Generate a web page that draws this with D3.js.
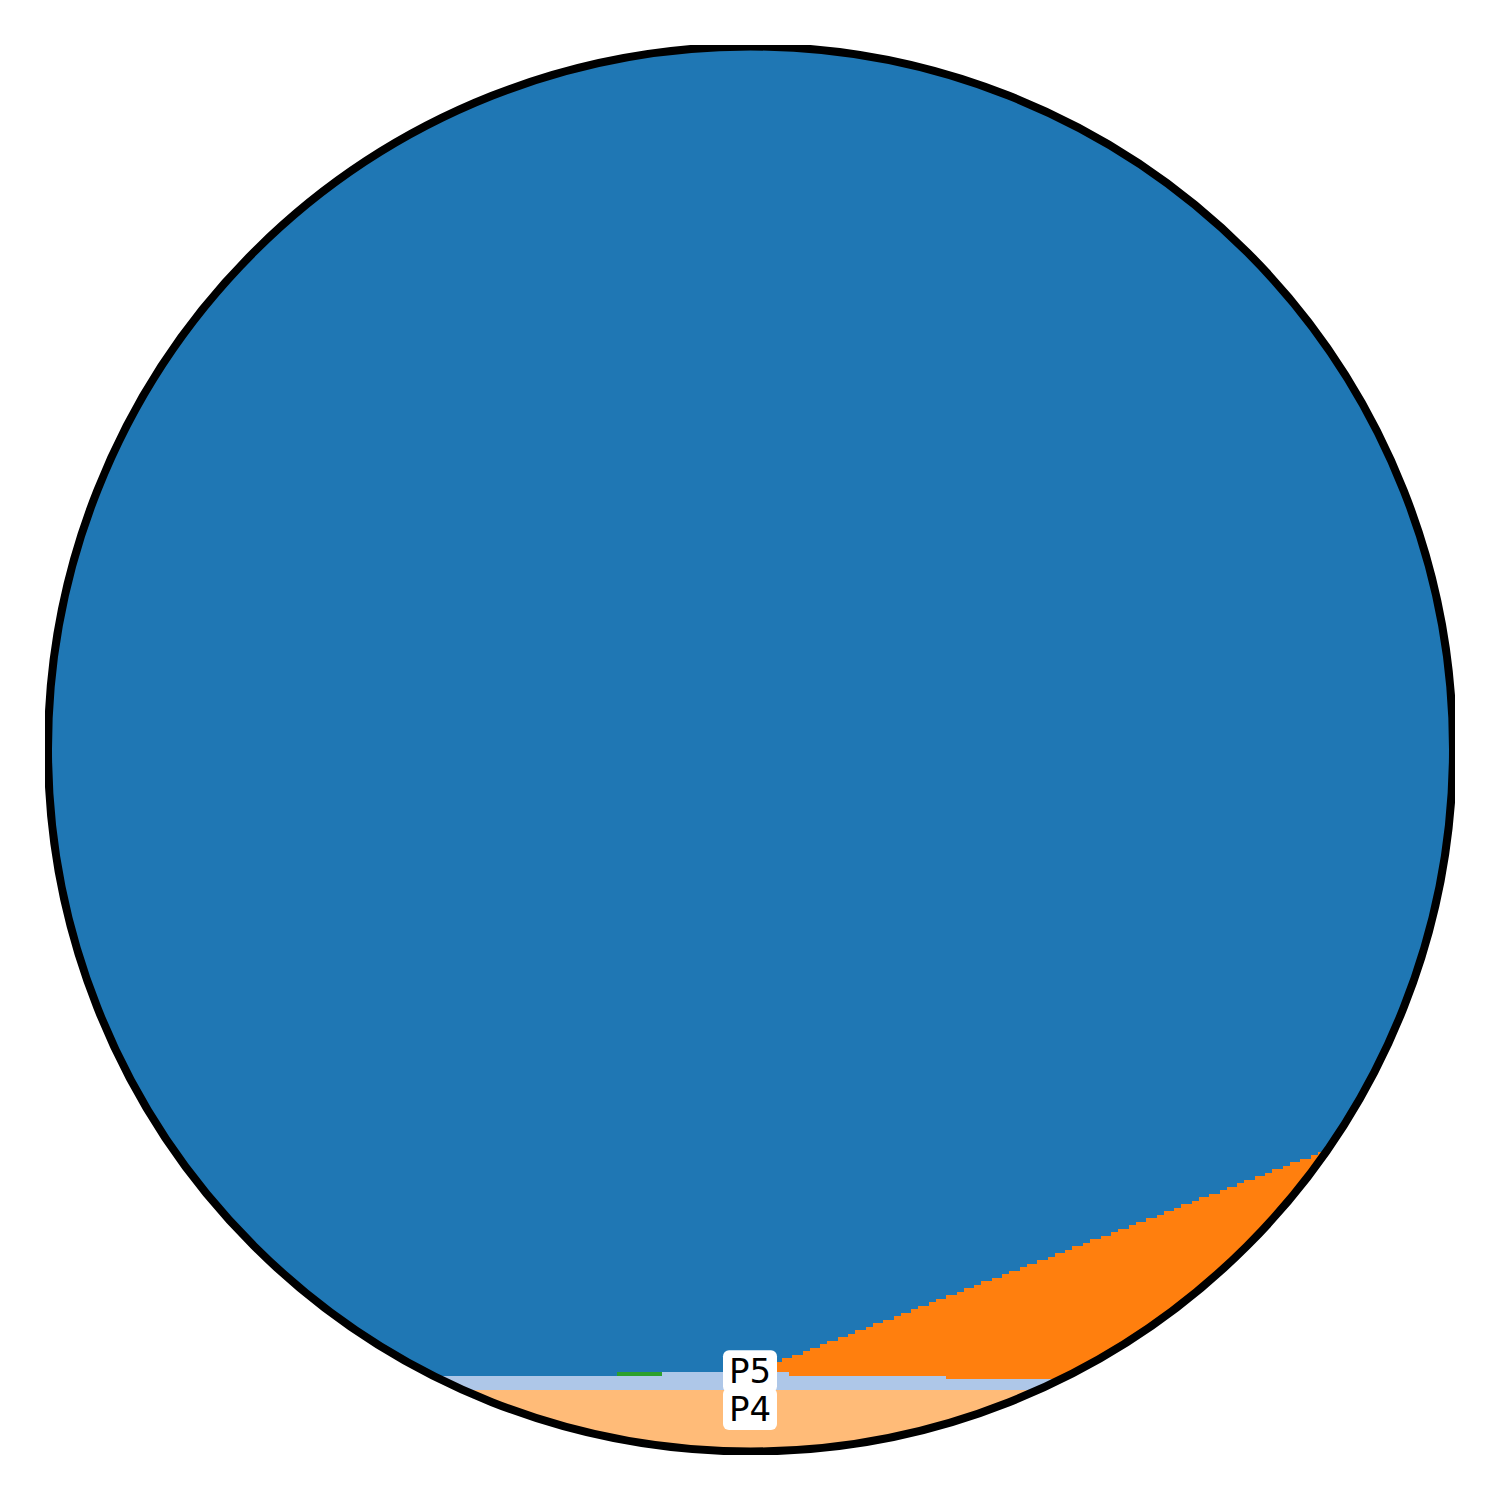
<!DOCTYPE html>
<html>
<head>
<meta charset="utf-8">
<script src="https://cdn.jsdelivr.net/npm/d3@7"></script>
<style>
  html, body { margin: 0; padding: 0; background: #fff; }
  svg { display: block; }
</style>
</head>
<body>
<svg id="chart" width="1500" height="1500"></svg>
<script>
// ---------------- DATA ----------------
// Grid of 400 columns x 402 rows (cells), stacked from the bottom.
const NUM_COLS = 401;
const TOTAL_ROWS = 402;
const categories = ["P1", "P2", "P3", "P4", "P5"];
const colors = ["#1f77b4", "#ff7f0e", "#2ca02c", "#ffbb78", "#aec7e8"];
const stackOrder = ["P4", "P5", "P3", "P2", "P1"]; // bottom -> top

// Run-length values: [start column, height in rows] (P1 is the remainder)
const p4Runs = [[0, 18]];
const p5Runs = [[0, 4], [175, 5], [211, 4], [256, 3]];
const p3Runs = [[0, 0], [162, 1], [175, 0]];
const p2Runs = [
  [0, 0], [202, 1], [204, 2], [207, 3], [209, 4], [211, 5], [212, 6], [215, 7],
  [217, 8], [220, 9], [222, 10], [225, 11], [228, 12], [230, 13], [233, 14],
  [235, 15], [238, 16], [241, 17], [243, 18], [246, 19], [248, 20], [251, 21],
  [253, 22], [256, 24], [259, 25], [261, 26], [264, 27], [266, 28], [269, 29],
  [272, 30], [274, 31], [277, 32], [279, 33], [282, 34], [285, 35], [287, 36],
  [290, 37], [292, 38], [295, 39], [297, 40], [300, 41], [303, 42], [305, 43],
  [308, 44], [310, 45], [313, 46], [316, 47], [318, 48], [321, 49], [323, 50],
  [326, 51], [328, 52], [331, 53], [334, 54], [336, 55], [339, 56], [341, 57],
  [344, 58], [347, 59], [349, 60], [352, 61], [354, 62], [357, 63], [360, 64],
  [362, 65], [365, 66], [367, 67]
];

// Visible labels and their anchor (column, row)
const labelNames = ["P5", "P4"];
const labelCols = [200, 200];
const labelRows = [23.5, 12.7];

// ---------------- CHART ----------------
const svg = d3.select("#chart");
const x = d3.scaleLinear().domain([0, 400]).range([49, 1451]);
const y = d3.scaleLinear().domain([0, 400]).range([1453, 51]);
const color = d3.scaleOrdinal().domain(categories).range(colors);

function expand(runs) {
  const out = [];
  let j = 0;
  for (let c = 0; c <= NUM_COLS; c++) {
    while (j + 1 < runs.length && runs[j + 1][0] <= c) j++;
    out.push(runs[j][0] <= c ? runs[j][1] : 0);
  }
  return out;
}

const p4 = expand(p4Runs), p5 = expand(p5Runs), p3 = expand(p3Runs), p2 = expand(p2Runs);
const rows = d3.range(NUM_COLS + 1).map(c => ({
  col: c,
  P4: p4[c], P5: p5[c], P3: p3[c], P2: p2[c],
  P1: TOTAL_ROWS - p4[c] - p5[c] - p3[c] - p2[c]
}));

const series = d3.stack().keys(stackOrder)(rows);

const defs = svg.append("defs");
defs.append("clipPath").attr("id", "circClip")
  .append("circle").attr("cx", 750.5).attr("cy", 749).attr("r", 701);
defs.append("clipPath").attr("id", "axClip")
  .append("rect").attr("x", 45).attr("y", 45).attr("width", 1410).attr("height", 1410);

const area = d3.area()
  .curve(d3.curveStepAfter)
  .x(d => x(d.data.col))
  .y0(y(-4))
  .y1(d => y(d[1]));

const g = svg.append("g").attr("clip-path", "url(#circClip)");
// draw from top layer down, each filling to the bottom (avoids seams)
g.selectAll("path.layer")
  .data(series.slice().reverse())
  .join("path")
  .attr("class", "layer")
  .attr("d", area)
  .attr("fill", d => color(d.key))
  .attr("shape-rendering", "crispEdges");

// outline
svg.append("g").attr("clip-path", "url(#axClip)")
  .append("circle")
  .attr("cx", 750.5).attr("cy", 749).attr("r", 702.5)
  .attr("fill", "none").attr("stroke", "#000").attr("stroke-width", 8);

// labels
const fontSize = 34;
const labels = svg.append("g");
labelNames.forEach((name, i) => {
  const cx = x(labelCols[i]);
  const cy = y(labelRows[i]);
  labels.append("rect")
    .attr("x", cx - 27).attr("y", cy - 20.5)
    .attr("width", 54).attr("height", 42)
    .attr("rx", 6).attr("fill", "#fff");
});
labelNames.forEach((name, i) => {
  const cx = x(labelCols[i]);
  const cy = y(labelRows[i]);
  labels.append("text")
    .attr("x", cx).attr("y", cy + 0.365 * fontSize)
    .attr("text-anchor", "middle")
    .attr("font-family", "DejaVu Sans")
    .attr("font-size", fontSize)
    .attr("fill", "#000")
    .text(name);
});
</script>
</body>
</html>
